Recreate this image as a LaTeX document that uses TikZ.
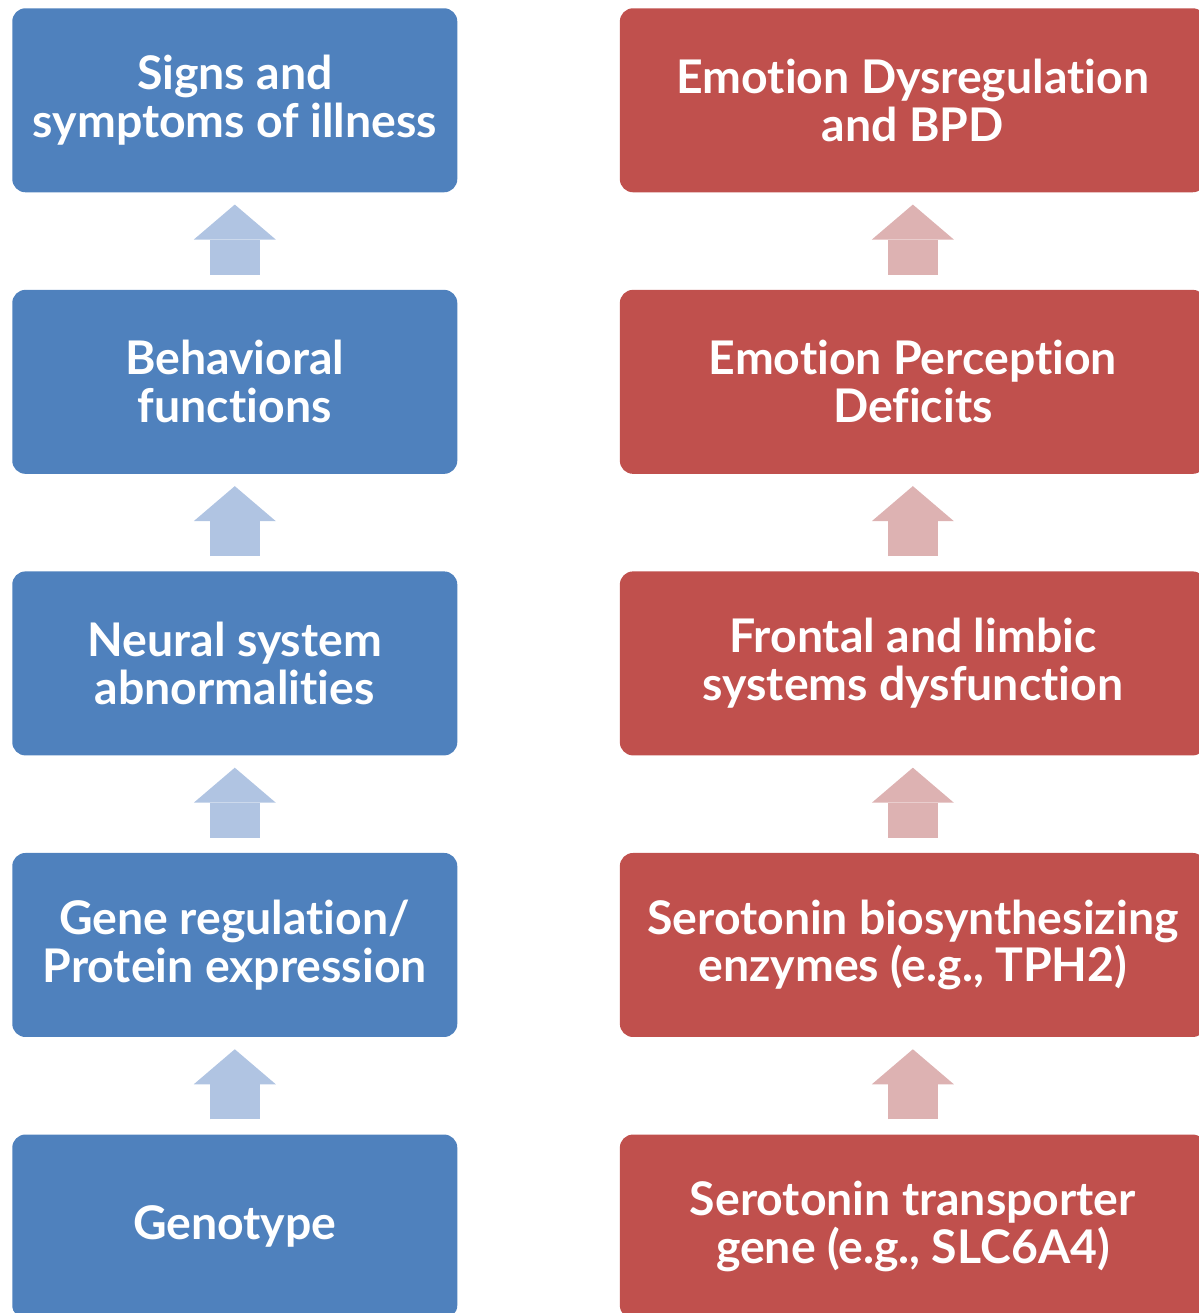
\documentclass[tikz,border=0pt]{standalone}
\usepackage{fontspec}
\setmainfont{Lato}[Ligatures=NoCommon]
\usetikzlibrary{arrows.meta,positioning}

\definecolor{boxblue}{HTML}{4F81BD}
\definecolor{boxred}{HTML}{C0504D}
\definecolor{arrblue}{HTML}{B0C4E2}
\definecolor{arrred}{HTML}{DDB2B2}

\begin{document}
\begin{tikzpicture}[
    node distance=2.425cm and 4.05cm,
    box/.style={rounded corners=0.33cm, align=center, text=white, inner sep=0pt, minimum height=4.6cm, font=\fontsize{33}{34}\selectfont\bfseries},
    cause/.style={box, fill=boxblue, minimum width=11.125cm},
    bpd/.style={box, fill=boxred, minimum width=14.65cm},
    uparr/.style={line width=1.25cm, shorten <=0.375cm, shorten >=0.3cm, -{Triangle[length=0.875cm, width=2.05cm, line width=0pt]}},
    bluearr/.style={uparr, draw=arrblue},
    redarr/.style={uparr, draw=arrred}
]
\useasboundingbox (0,0) rectangle (29.975,-32.825);

\node[cause, anchor=north west] (signs) at (0.3,-0.2) {Signs and\\symptoms of illness};
\node[cause, below=of signs] (behavior) {Behavioral\\functions};
\node[cause, below=of behavior] (neural) {Neural system\\abnormalities};
\node[cause, below=of neural] (genereg) {Gene regulation/\\Protein expression};
\node[cause, below=of genereg] (genotype) {Genotype};

\node[bpd, right=of signs] (dysreg) {Emotion Dysregulation\\and BPD};
\node[bpd, below=of dysreg] (perception) {Emotion Perception\\Deficits};
\node[bpd, below=of perception] (limbic) {Frontal and limbic\\systems dysfunction};
\node[bpd, below=of limbic] (enzymes) {Serotonin biosynthesizing\\enzymes (e.g., TPH2)};
\node[bpd, below=of enzymes] (transporter) {Serotonin transporter\\gene (e.g., SLC6A4)};

\draw[bluearr] (genotype.north) -- (genereg.south);
\draw[bluearr] (genereg.north) -- (neural.south);
\draw[bluearr] (neural.north) -- (behavior.south);
\draw[bluearr] (behavior.north) -- (signs.south);

\draw[redarr] (transporter.north) -- (enzymes.south);
\draw[redarr] (enzymes.north) -- (limbic.south);
\draw[redarr] (limbic.north) -- (perception.south);
\draw[redarr] (perception.north) -- (dysreg.south);
\end{tikzpicture}
\end{document}
